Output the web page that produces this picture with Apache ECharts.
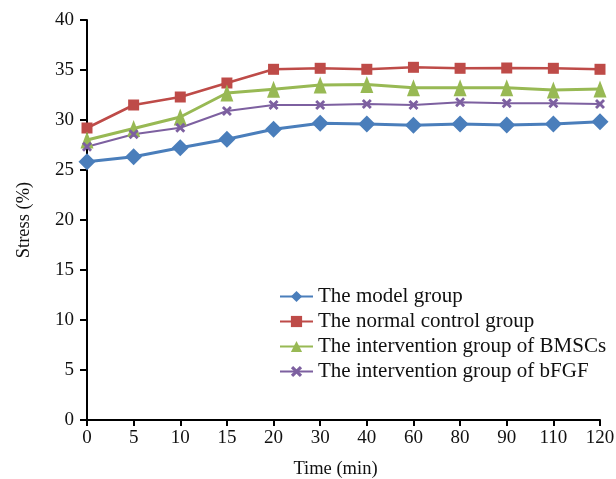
<!DOCTYPE html>
<html><head><meta charset="utf-8">
<script src="https://cdn.jsdelivr.net/npm/echarts@6/dist/echarts.min.js"></script>
<style>html,body{margin:0;padding:0;background:#fff}#c{width:616px;height:479px}</style>
</head><body><div id="c"></div>
<script>
const categories = ['0','5','10','15','20','30','40','60','80','90','110','120'];
const modelGroup = [25.83,26.33,27.23,28.07,29.07,29.67,29.6,29.47,29.6,29.5,29.6,29.83];
const normalGroup = [29.2,31.5,32.3,33.7,35.07,35.17,35.07,35.27,35.17,35.2,35.17,35.07];
const bmscGroup = [28.0,29.15,30.3,32.7,33.07,33.5,33.55,33.23,33.23,33.23,33.0,33.1];
const bfgfGroup = [27.33,28.57,29.23,30.9,31.5,31.5,31.6,31.5,31.77,31.67,31.67,31.6];
const names = ['The model group','The normal control group','The intervention group of BMSCs','The intervention group of bFGF'];

const font = 'Liberation Serif';
const xPath = 'path://M2,0L5,3L8,0L10,2L7,5L10,8L8,10L5,7L2,10L0,8L3,5L0,2Z';
const chart = echarts.init(document.getElementById('c'));
function s(name, data, color, symbol, size, width) {
  return {name, type:'line', data, symbol, symbolSize:size, showSymbol:true,
    lineStyle:{color, width}, itemStyle:{color}, emphasis:{disabled:true}};
}
chart.setOption({
  animation:false,
  textStyle:{fontFamily:font},
  grid:{left:87, right:16, top:20, bottom:59, containLabel:false, outerBoundsMode:'none'},
  legend:{orient:'vertical', left:274, top:281, itemGap:4, itemWidth:33, itemHeight:14,
    textStyle:{fontFamily:font, fontSize:21, color:'#111'},
    data:names},
  xAxis:{type:'category', data:categories, boundaryGap:false,
    name:'Time (min)', nameLocation:'middle', nameGap:40,
    nameTextStyle:{fontFamily:font, fontSize:18.5, color:'#111', padding:[0,16,0,0]},
    axisLine:{lineStyle:{color:'#000', width:2}},
    axisTick:{show:true, alignWithLabel:true, length:6, lineStyle:{color:'#000', width:2}},
    axisLabel:{fontFamily:font, fontSize:19, color:'#111', margin:9, interval:0},
    splitLine:{show:false}},
  yAxis:{type:'value', min:0, max:40, interval:5,
    name:'Stress (%)', nameLocation:'middle', nameGap:53,
    nameTextStyle:{fontFamily:font, fontSize:18.5, color:'#111'},
    axisLine:{show:true, lineStyle:{color:'#000', width:2}},
    axisTick:{show:true, length:7, lineStyle:{color:'#000', width:2}},
    axisLabel:{fontFamily:font, fontSize:19, color:'#111', margin:13},
    splitLine:{show:false}},
  series:[
    s(names[0], modelGroup, '#4a7ebb', 'diamond', 17, 3),
    s(names[1], normalGroup, '#be4b48', 'rect', 11, 2.6),
    s(names[2], bmscGroup, '#98b954', 'triangle', [13,17], 3),
    s(names[3], bfgfGroup, '#7d60a0', xPath, 10, 2)
  ]
});
</script></body></html>
